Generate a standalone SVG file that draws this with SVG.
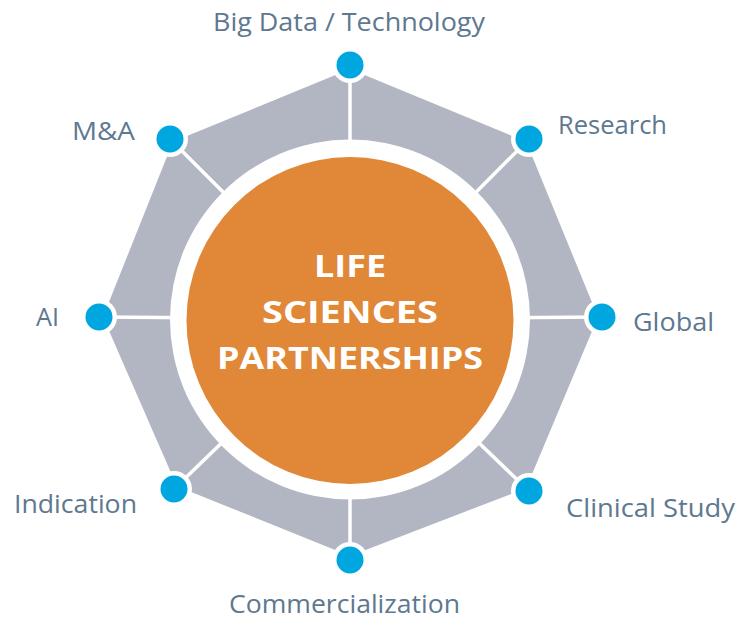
<svg xmlns="http://www.w3.org/2000/svg" width="750" height="621" viewBox="0 0 750 621">
  <style>
    .label { font-family: "Open Sans", "Noto Sans", "Liberation Sans", sans-serif; font-size: 26px; fill: #5e7890; }
    .title { font-family: "Open Sans", "Noto Sans", "Liberation Sans", sans-serif; font-size: 31px; font-weight: 700; fill: #ffffff; text-anchor: middle; }
    .spoke { stroke: #ffffff; stroke-width: 3.5; }
    .halo { fill: #ffffff; }
    .dot { fill: #00a6df; }
  </style>
  <rect width="750" height="621" fill="#ffffff"/>

  <!-- grey octagon band -->
  <polygon points="350,69 526.2,141.8 598,317 526.1,488.2 350,556 176.9,486.2 103,317 172.9,141.8" fill="#b1b6c2"/>

  <!-- spokes from the hub to each vertex -->
  <g id="connectors">
    <line class="spoke" x1="350" y1="319" x2="350" y2="65"/>
    <line class="spoke" x1="350" y1="319" x2="529" y2="139"/>
    <line class="spoke" x1="350" y1="319" x2="602" y2="317"/>
    <line class="spoke" x1="350" y1="319" x2="529" y2="491"/>
    <line class="spoke" x1="350" y1="319" x2="350" y2="560"/>
    <line class="spoke" x1="350" y1="319" x2="174" y2="489"/>
    <line class="spoke" x1="350" y1="319" x2="99" y2="317"/>
    <line class="spoke" x1="350" y1="319" x2="170" y2="139"/>
  </g>

  <!-- central hub -->
  <g id="hub">
    <circle cx="350" cy="319.5" r="180" fill="#ffffff"/>
    <circle cx="350" cy="320.5" r="163.5" fill="#e08838"/>
    <text class="title" x="350" y="277" textLength="72" lengthAdjust="spacingAndGlyphs">LIFE</text>
    <text class="title" x="350" y="323" textLength="176" lengthAdjust="spacingAndGlyphs">SCIENCES</text>
    <text class="title" x="350" y="369" textLength="266" lengthAdjust="spacingAndGlyphs">PARTNERSHIPS</text>
  </g>

  <g id="node-big-data">
    <circle class="halo" cx="350" cy="65" r="18"/>
    <circle class="dot" cx="350" cy="65" r="13.5"/>
    <text class="label" x="213" y="31" textLength="272" lengthAdjust="spacingAndGlyphs">Big Data / Technology</text>
  </g>

  <g id="node-research">
    <circle class="halo" cx="529" cy="139" r="18"/>
    <circle class="dot" cx="529" cy="139" r="13.5"/>
    <text class="label" x="558" y="134" textLength="109" lengthAdjust="spacingAndGlyphs">Research</text>
  </g>

  <g id="node-global">
    <circle class="halo" cx="602" cy="317" r="18"/>
    <circle class="dot" cx="602" cy="317" r="13.5"/>
    <text class="label" x="633" y="331" textLength="81" lengthAdjust="spacingAndGlyphs">Global</text>
  </g>

  <g id="node-clinical-study">
    <circle class="halo" cx="529" cy="491" r="18"/>
    <circle class="dot" cx="529" cy="491" r="13.5"/>
    <text class="label" x="566" y="517" textLength="169" lengthAdjust="spacingAndGlyphs">Clinical Study</text>
  </g>

  <g id="node-commercialization">
    <circle class="halo" cx="350" cy="560" r="18"/>
    <circle class="dot" cx="350" cy="560" r="13.5"/>
    <text class="label" x="229" y="613" textLength="231" lengthAdjust="spacingAndGlyphs">Commercialization</text>
  </g>

  <g id="node-indication">
    <circle class="halo" cx="174" cy="489" r="18"/>
    <circle class="dot" cx="174" cy="489" r="13.5"/>
    <text class="label" x="14" y="513" textLength="123" lengthAdjust="spacingAndGlyphs">Indication</text>
  </g>

  <g id="node-ai">
    <circle class="halo" cx="99" cy="317" r="18"/>
    <circle class="dot" cx="99" cy="317" r="13.5"/>
    <text class="label" x="36" y="326" textLength="23" lengthAdjust="spacingAndGlyphs">AI</text>
  </g>

  <g id="node-ma">
    <circle class="halo" cx="170" cy="139" r="18"/>
    <circle class="dot" cx="170" cy="139" r="13.5"/>
    <text class="label" x="72" y="140" textLength="63" lengthAdjust="spacingAndGlyphs">M&amp;A</text>
  </g>
</svg>
